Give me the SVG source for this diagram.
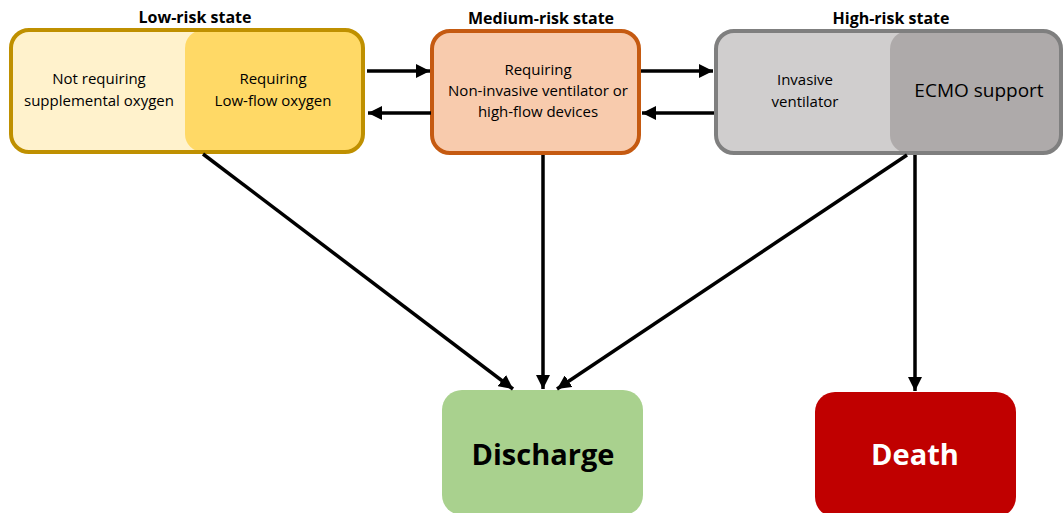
<svg xmlns="http://www.w3.org/2000/svg" width="1063" height="513" viewBox="0 0 1063 513">
<style>
.t{font-family:"Open Sans","Liberation Sans",sans-serif;font-size:15px;fill:#000;text-anchor:middle}
.h{font-family:"Open Sans","Liberation Sans",sans-serif;font-size:16px;font-weight:bold;fill:#000;text-anchor:middle}
.big{font-family:"Open Sans","Liberation Sans",sans-serif;font-size:29px;font-weight:bold;text-anchor:middle}
.c{stroke:#000;stroke-width:3.5;fill:none;marker-end:url(#ah)}
</style>
<defs>
<marker id="ah" markerWidth="14" markerHeight="14" refX="10" refY="5" orient="auto" markerUnits="userSpaceOnUse" viewBox="0 0 10 10">
<path d="M0,0 L10,5 L0,10 Z" fill="#000"/>
</marker>
<clipPath id="clipLow"><rect x="11" y="30" width="352" height="122" rx="18"/></clipPath>
<clipPath id="clipHigh"><rect x="716" y="31" width="345" height="122" rx="18"/></clipPath>
</defs>
<g id="low">
<text class="h" x="195" y="23">Low-risk state</text>
<rect x="11" y="30" width="352" height="122" rx="18" fill="#FFF2CC"/>
<rect x="185" y="30" width="200" height="122" rx="18" fill="#FFD966" clip-path="url(#clipLow)"/>
<rect x="11" y="30" width="352" height="122" rx="18" fill="none" stroke="#BF9000" stroke-width="4"/>
<text class="t" x="99" y="84">Not requiring</text>
<text class="t" x="99" y="106">supplemental oxygen</text>
<text class="t" x="273" y="84">Requiring</text>
<text class="t" x="273" y="106">Low-flow oxygen</text>
</g>
<g id="medium">
<text class="h" x="541" y="24">Medium-risk state</text>
<rect x="432" y="31" width="207" height="122" rx="18" fill="#F8CBAD" stroke="#C55A11" stroke-width="4"/>
<text class="t" x="538" y="75">Requiring</text>
<text class="t" x="538" y="96">Non-invasive ventilator or</text>
<text class="t" x="538" y="117">high-flow devices</text>
</g>
<g id="high">
<text class="h" x="891" y="24">High-risk state</text>
<rect x="716" y="31" width="345" height="122" rx="18" fill="#D0CECE"/>
<rect x="890" y="31" width="200" height="122" rx="18" fill="#AEAAAA" clip-path="url(#clipHigh)"/>
<rect x="716" y="31" width="345" height="122" rx="18" fill="none" stroke="#7F7F7F" stroke-width="4"/>
<text class="t" x="805" y="85">Invasive</text>
<text class="t" x="805" y="107">ventilator</text>
<text class="t" x="979" y="97" style="font-size:19px">ECMO support</text>
</g>
<g id="discharge">
<rect x="442" y="390" width="201" height="125" rx="20" fill="#A9D18E"/>
<text class="big" x="543" y="465" fill="#000">Discharge</text>
</g>
<g id="death">
<rect x="815" y="392" width="201" height="125" rx="20" fill="#C00000"/>
<text class="big" x="915" y="465" fill="#fff">Death</text>
</g>
<g id="connectors">
<line class="c" x1="367" y1="71" x2="430" y2="71"/>
<line class="c" x1="431" y1="113" x2="368" y2="113"/>
<line class="c" x1="641" y1="71" x2="713" y2="71"/>
<line class="c" x1="714" y1="113" x2="642" y2="113"/>
<line class="c" x1="203" y1="154" x2="513" y2="389"/>
<line class="c" x1="543" y1="155" x2="543" y2="389"/>
<line class="c" x1="907" y1="155" x2="557" y2="389"/>
<line class="c" x1="915" y1="155" x2="915" y2="391"/>
</g>
</svg>
